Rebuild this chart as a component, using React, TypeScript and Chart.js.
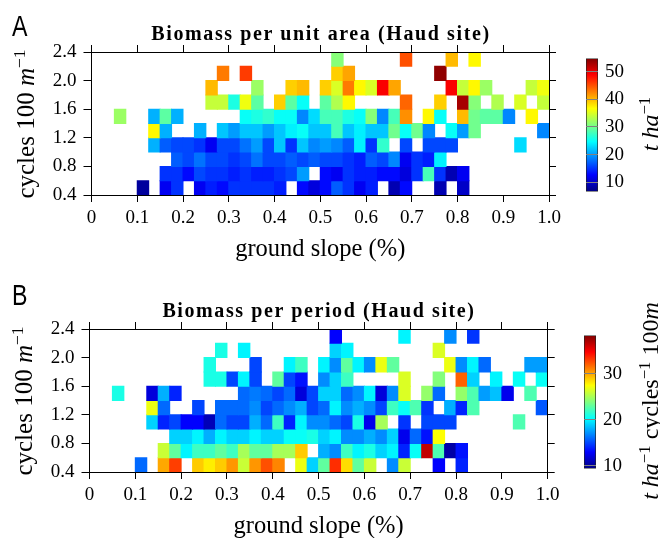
import React, { useEffect, useRef } from 'react';
import { Chart, registerables } from 'chart.js';

Chart.register(...registerables);

const _ = null;

// bin edges: ground slope (x) and cycles per 100 m (y)
const slopeEdges = [
  0, 0.025, 0.05, 0.075, 0.1, 0.125, 0.15, 0.175, 0.2, 0.225,
  0.25, 0.275, 0.3, 0.325, 0.35, 0.375, 0.4, 0.425, 0.45, 0.475,
  0.5, 0.525, 0.55, 0.575, 0.6, 0.625, 0.65, 0.675, 0.7, 0.725,
  0.75, 0.775, 0.8, 0.825, 0.85, 0.875, 0.9, 0.925, 0.95, 0.975, 1.0,
];
const cyclesEdges = [0.4, 0.6, 0.8, 1.0, 1.2, 1.4, 1.6, 1.8, 2.0, 2.2, 2.4];

const xTickLabels = ['0', '0.1', '0.2', '0.3', '0.4', '0.5', '0.6', '0.7', '0.8', '0.9', '1.0'];
const yTickLabels = ['0.4', '0.8', '1.2', '1.6', '2.0', '2.4'];

// Panel A: biomass per unit area (t/ha); rows from cycles 0.4 upward
const areaRows: (number | null)[][] = [
  [_,_,_,_,8,_,12,15,_,12, 14,13,15,15,15,15,14,_,13,11, 13,17,15,12,14,_,9,13,_,_, 9,_,10,_,_,_,_,_,_,_],
  [_,_,_,_,_,_,15,15,13,16, 15,15,14,15,14,14,15,16,20,_, 13,12,15,14,14,13,13,11,15,28, 15,9,12,_,_,_,_,_,_,_],
  [_,_,_,_,_,_,_,17,16,18, 16,16,15,16,18,16,16,17,16,17, 16,16,15,14,17,16,19,12,15,14, 24,_,_,_,_,_,_,_,_,_],
  [_,_,_,_,_,21,17,16,16,15, 12,16,16,18,20,16,22,15,22,19, 20,19,17,24,15,27,_,16,_,16, 16,16,_,_,_,_,_,23,_,_],
  [_,_,_,_,_,37,21,_,_,21, _,22,20,22,22,20,22,24,25,22, 22,28,22,24,22,22,30,25,30,19, _,25,20,30,_,_,_,_,_,19],
  [_,_,32,_,_,21,29,21,_,_, _,_,_,25,26,27,25,25,19,23, 28,28,26,25,31,19,28,42,_,37, 25,_,40,30,29,29,19,_,37,_],
  [_,_,_,_,_,_,_,_,_,_, 34,34,26,36,29,_,39,29,25,_, 29,33,37,_,_,_,_,44,_,_, 39,_,53,31,_,33,_,35,_,34],
  [_,_,_,_,_,_,_,_,_,_, 40,_,_,_,32,_,_,39,40,_, 39,35,43,37,35,49,41,_,_,_, _,49,34,37,32,_,_,_,34,36],
  [_,_,_,_,_,_,_,_,_,_, _,43,_,46,_,_,_,_,_,_, _,39,41,_,_,_,_,_,_,_, 54,_,_,_,_,_,_,_,_,_],
  [_,_,_,_,_,_,_,_,_,_, _,_,_,_,_,_,_,_,_,_, _,31,_,_,_,_,_,45,_,_, _,40,_,37,_,_,_,_,_,_],
];

// Panel B: biomass per period (t/ha per cycle per 100 m)
const periodRows: (number | null)[][] = [
  [_,_,_,_,16,_,30,33,_,29, 28,29,30.5,26,30.5,32.5,31,_,27,19, 23,33.5,28.5,23,26,_,17,26,_,_, 13,_,14,_,_,_,_,_,_,_],
  [_,_,_,_,_,_,26,23,20,22, 22,23,22,25,23,23,25,25,29,_, 18,17,22,20,21,19,20,14,20.5,36.5, 22.5,10.5,13.5,_,_,_,_,_,_,_],
  [_,_,_,_,_,_,_,19,19,20, 18,20,19,19,20,19,19,20.5,20.5,21, 19,20,17,17,18,17,19,12.5,16,13.5, 27.5,_,_,_,_,_,_,_,_,_],
  [_,_,_,_,_,19,14,15,13,13, 11,16,15,15,18,16,22,14,20,17, 17,16,15,21,12.5,25,_,14.5,_,15, 15,15,_,_,_,_,_,22.5,_,_],
  [_,_,_,_,_,27,16,_,_,15, _,16,16,16,17,15,16,17,18,15, 16,20,17,18,17,15,22,20.5,22.5,14.5, _,18,14,22.5,_,_,_,_,_,15.5],
  [_,_,21,_,_,12,18,14,_,_, _,_,_,16,16.5,16,15,16,12,15, 19,19,16,17,20,12,17,26.5,_,24.5, 16,_,24.5,22.5,17.5,18.5,12.5,_,22.5,_],
  [_,_,_,_,_,_,_,_,_,_, 21,21,15,20,15,_,23,15,13.5,_, 17,19,22,_,_,_,_,26.5,_,_, 24,_,32,19,_,20,_,20.5,_,20.5],
  [_,_,_,_,_,_,_,_,_,_, 21,_,_,_,15,_,_,20,22,_, 20,17,23,20,17,27,23,_,_,_, _,27,17,20,16,_,_,_,17.5,17.5],
  [_,_,_,_,_,_,_,_,_,_, _,21,_,20,_,_,_,_,_,_, _,19,20,_,_,_,_,_,_,_, 26.5,_,_,_,_,_,_,_,_,_],
  [_,_,_,_,_,_,_,_,_,_, _,_,_,_,_,_,_,_,_,_, _,13,_,_,_,_,_,20,_,_, _,17,_,14.5,_,_,_,_,_,_],
];

const areaRange = [6.6, 54.8];
const periodRange = [9.4, 38.4];
const areaTicks = [10, 20, 30, 40, 50];
const periodTicks = [10, 20, 30];

const SERIF = "'Liberation Serif', 'Times New Roman', serif";

const jetStops: [number, string][] = [
  [0, 'rgb(0,0,128)'],
  [0.125, 'rgb(0,0,255)'],
  [0.375, 'rgb(0,255,255)'],
  [0.625, 'rgb(255,255,0)'],
  [0.875, 'rgb(255,0,0)'],
  [1, 'rgb(128,0,0)'],
];

function jet(t: number) {
  const u = Math.min(1, Math.max(0, t));
  const f = (c: number) => Math.round(255 * Math.min(1, Math.max(0, 1.5 - Math.abs(4 * u - c))));
  return `rgb(${f(3)},${f(2)},${f(1)})`;
}

function makeHeatmap(canvas: HTMLCanvasElement, rows: (number | null)[][], range: number[], plotLeft: number, padRight: number) {
  const points: any[] = [];
  rows.forEach((row, j) => {
    row.forEach((v, i) => {
      if (v !== null) {
        points.push({
          x: (slopeEdges[i] + slopeEdges[i + 1]) / 2,
          y: [cyclesEdges[j], cyclesEdges[j + 1]],
          v,
        });
      }
    });
  });
  const [vmin, vmax] = range;
  const tickFont = { family: SERIF, size: 19 };
  const xLabel = (v: any) => {
    const idx = Math.round(Number(v) * 10);
    return xTickLabels[idx] ?? '';
  };
  const yLabel = (v: any) => {
    const idx = Math.round((Number(v) - 0.4) / 0.4);
    return yTickLabels[idx] ?? '';
  };
  return new Chart(canvas, {
    type: 'bar',
    data: {
      datasets: [
        {
          data: points,
          backgroundColor: (c: any) => jet((c.raw.v - vmin) / (vmax - vmin)),
          borderWidth: 0,
          barPercentage: 1,
          categoryPercentage: 1,
          inflateAmount: 0.5,
        } as any,
      ],
    },
    options: {
      animation: false,
      responsive: false,
      maintainAspectRatio: false,
      events: [],
      layout: { padding: { top: 45, right: padRight, left: 0, bottom: 0 } },
      plugins: { legend: { display: false }, tooltip: { enabled: false } },
      scales: {
        x: {
          type: 'linear',
          position: 'bottom',
          min: 0,
          max: 1,
          offset: false,
          grid: { offset: false, drawOnChartArea: false, drawTicks: true, tickLength: 7, color: '#000' },
          border: { display: true, color: '#000', width: 1, z: 1 },
          ticks: { stepSize: 0.1, color: '#000', font: tickFont, padding: 5, maxRotation: 0, autoSkip: false, callback: xLabel },
          title: { display: true, text: 'ground slope (%)', color: '#000', font: { family: SERIF, size: 24.5 }, padding: { top: 0, bottom: 5.3 } },
          afterFit: (s: any) => { s.height = 75; },
        },
        x2: {
          type: 'linear',
          position: 'top',
          min: 0,
          max: 1,
          offset: false,
          grid: { offset: false, drawOnChartArea: false, drawTicks: true, tickLength: 7, color: '#000' },
          border: { display: true, color: '#000', width: 1, z: 1 },
          ticks: { stepSize: 0.1, display: false },
          afterFit: (s: any) => { s.height = 7; },
        },
        y: {
          type: 'linear',
          position: 'left',
          min: 0.4,
          max: 2.4,
          beginAtZero: false,
          grid: { drawOnChartArea: false, drawTicks: true, tickLength: 8, color: '#000' },
          border: { display: true, color: '#000', width: 1, z: 1 },
          ticks: { stepSize: 0.4, color: '#000', font: tickFont, padding: 7, callback: yLabel },
          afterFit: (s: any) => { s.width = plotLeft; },
        },
        y2: {
          type: 'linear',
          position: 'right',
          min: 0.4,
          max: 2.4,
          beginAtZero: false,
          grid: { drawOnChartArea: false, drawTicks: true, tickLength: 7, color: '#000' },
          border: { display: true, color: '#000', width: 1, z: 1 },
          ticks: { stepSize: 0.4, display: false },
          afterFit: (s: any) => { s.width = 7; },
        },
      },
    } as any,
  });
}

function makeColorbar(canvas: HTMLCanvasElement, range: number[], ticks: number[]) {
  const [vmin, vmax] = range;
  return new Chart(canvas, {
    type: 'bar',
    data: {
      labels: [''],
      datasets: [
        {
          data: [[vmin, vmax]],
          backgroundColor: (c: any) => {
            const area = c.chart.chartArea;
            if (!area) return 'rgba(0,0,0,0)';
            const g = c.chart.ctx.createLinearGradient(0, area.bottom, 0, area.top);
            jetStops.forEach(([p, col]) => g.addColorStop(p, col));
            return g;
          },
          borderColor: '#222',
          borderWidth: 1,
          borderSkipped: false,
          barPercentage: 1,
          categoryPercentage: 1,
        } as any,
      ],
    },
    options: {
      animation: false,
      responsive: false,
      maintainAspectRatio: false,
      events: [],
      layout: { padding: { top: 12, bottom: 15, left: 0, right: 0 } },
      plugins: { legend: { display: false }, tooltip: { enabled: false } },
      scales: {
        x: { display: false },
        y: {
          position: 'right',
          min: vmin,
          max: vmax,
          beginAtZero: false,
          afterBuildTicks: (s: any) => { s.ticks = ticks.map((value) => ({ value })); },
          ticks: { color: '#000', font: { family: SERIF, size: 19 }, padding: 7, callback: (v: any) => String(v) },
          grid: { drawOnChartArea: true, drawTicks: false, color: '#808080', z: 1 },
          border: { display: false },
          afterFit: (s: any) => { s.width = 38; },
        },
      },
    } as any,
  });
}

const supStyle: React.CSSProperties = { fontSize: '0.7em', position: 'relative', top: '-0.5em', lineHeight: 0 };

function rot(cx: number, cy: number, size = 24): React.CSSProperties {
  return {
    position: 'absolute',
    left: cx,
    top: cy,
    transform: 'translate(-50%, -50%) rotate(-90deg)',
    whiteSpace: 'nowrap',
    fontFamily: SERIF,
    fontSize: size,
    lineHeight: `${size}px`,
    color: '#000',
  };
}

const letterStyle = (top: number): React.CSSProperties => ({
  position: 'absolute',
  left: 12,
  top,
  fontFamily: "'Liberation Sans', Arial, sans-serif",
  fontSize: 29,
  lineHeight: '29px',
  transform: 'scaleX(0.8)',
  transformOrigin: 'left top',
  color: '#000',
});

const titleStyle = (cx: number, top: number): React.CSSProperties => ({
  position: 'absolute',
  left: cx,
  top,
  transform: 'translateX(-50%)',
  whiteSpace: 'nowrap',
  fontFamily: SERIF,
  fontWeight: 'bold',
  fontSize: 20,
  lineHeight: '20px',
  letterSpacing: '1.6px',
  color: '#000',
});

export default function App() {
  const mainA = useRef<HTMLCanvasElement>(null);
  const mainB = useRef<HTMLCanvasElement>(null);
  const cbA = useRef<HTMLCanvasElement>(null);
  const cbB = useRef<HTMLCanvasElement>(null);

  useEffect(() => {
    const charts = [
      makeHeatmap(mainA.current!, areaRows, areaRange, 91.5, 14),
      makeHeatmap(mainB.current!, periodRows, periodRange, 89.5, 15.3),
      makeColorbar(cbA.current!, areaRange, areaTicks),
      makeColorbar(cbB.current!, periodRange, periodTicks),
    ];
    return () => charts.forEach((c) => c.destroy());
  }, []);

  return (
    <div style={{ position: 'relative', width: 660, height: 538, overflow: 'hidden', background: '#fff' }}>
      <style>{'html,body{margin:0;padding:0;overflow:hidden;background:#fff}'}</style>
      <canvas ref={mainA} width={570} height={270} style={{ position: 'absolute', left: 0, top: 0 }} />
      <canvas ref={cbA} width={50} height={170} style={{ position: 'absolute', left: 586, top: 40 }} />
      <canvas ref={mainB} width={570} height={270} style={{ position: 'absolute', left: 0, top: 277 }} />
      <canvas ref={cbB} width={50} height={170} style={{ position: 'absolute', left: 584, top: 317 }} />

      <div style={letterStyle(11.5)}>A</div>
      <div style={letterStyle(280.5)}>B</div>

      <div style={titleStyle(321, 22.6)}>Biomass per unit area (Haud site)</div>
      <div style={titleStyle(319, 299.6)}>Biomass per period (Haud site)</div>

      <div style={rot(25, 123.5, 25)}>
        cycles 100 <i>m</i><span style={supStyle}>−1</span>
      </div>
      <div style={rot(23, 400.5, 25)}>
        cycles 100 <i>m</i><span style={supStyle}>−1</span>
      </div>

      <div style={rot(650, 123.5)}>
        <i>t ha</i><span style={supStyle}>−1</span>
      </div>
      <div style={rot(650, 400.5)}>
        <i>t ha</i><span style={supStyle}>−1</span> cycles<span style={supStyle}>−1</span> 100<i>m</i>
      </div>
    </div>
  );
}
